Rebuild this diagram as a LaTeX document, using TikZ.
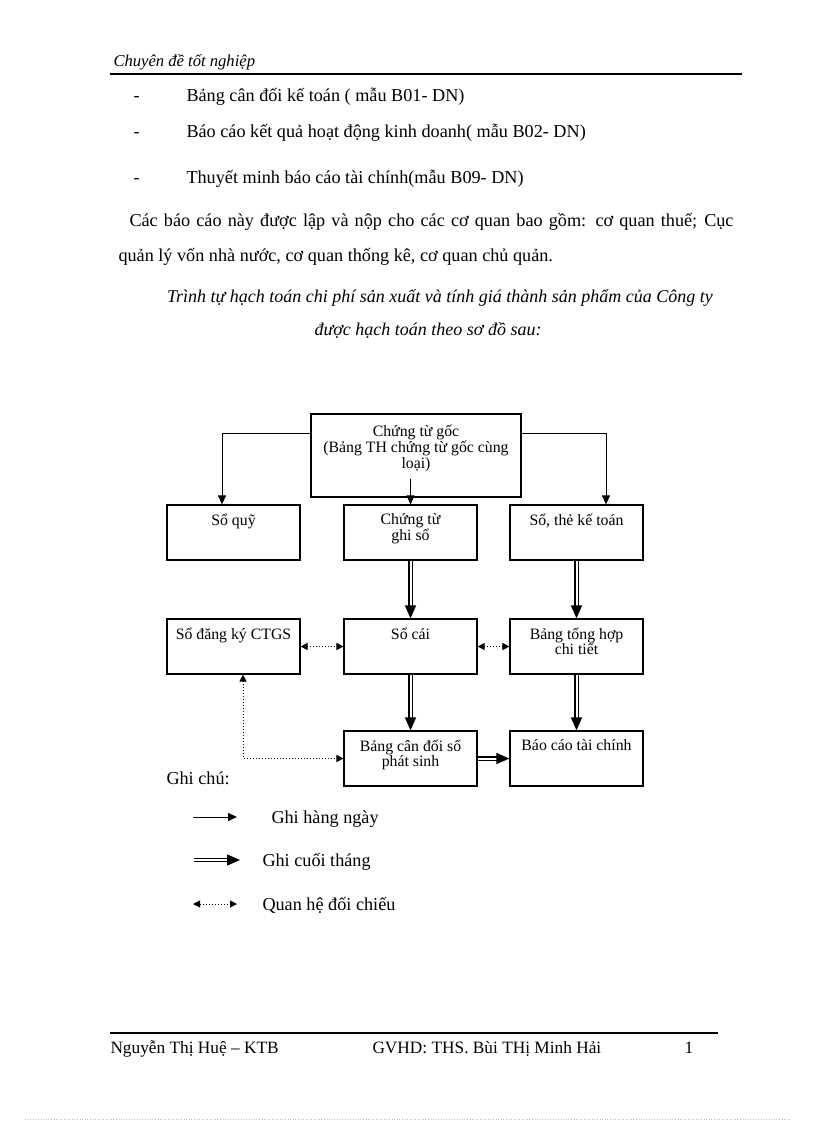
\documentclass[tikz,border=0pt]{standalone}
\usepackage{fontspec}
\setmainfont{Liberation Serif}
\usetikzlibrary{arrows.meta,calc,positioning}

\begin{document}
\begin{tikzpicture}[x=1pt, y=-1pt, on grid, node distance=114pt and 177pt, line width=1pt,
		box/.style={draw, line width=1.2pt, minimum width=133pt, minimum height=55pt},
		lbl/.style={anchor=north, inner sep=0pt, yshift=-9pt, align=center, font=\fontsize{15.8}{15.5}\selectfont},
		txt/.style={anchor=base west, inner sep=0pt, font=\fontsize{18.2}{22}\selectfont},
		daily/.style={-{Triangle[length=9pt,width=8pt]}},
		monthly/.style={double, line width=1.2pt, double distance=2pt, -{Triangle[length=13pt,width=11pt]}},
		check/.style={dotted, {Triangle[length=7pt,width=7pt]}-{Triangle[length=7pt,width=7pt]}}]
			\useasboundingbox (0,0) rectangle (816,1123);
			% page header and text
			\node[txt, font=\fontsize{16.6}{20}\selectfont\itshape] (head) at (113,67) {Chuyên đề tốt nghiệp};
			\draw[line width=2pt] (110,74) -- (742,74);
			\foreach \y/\t in {102/{Bảng cân đối kế toán ( mẫu B01- DN)},
			                   138/{Báo cáo kết quả hoạt động kinh doanh( mẫu B02- DN)},
			                   184/{Thuyết minh báo cáo tài chính(mẫu B09- DN)}} {
				\node[txt] at (133,\y) {-};
				\node[txt] at (186,\y) {\t};
			}
			\node[txt] (para1) at (129,227) {\makebox[604pt][s]{Các báo cáo này được lập và nộp cho các cơ quan bao gồm: cơ quan thuế; Cục}};
			\node[txt] (para2) at (118,261) {quản lý vốn nhà nước, cơ quan thống kê, cơ quan chủ quản.};
			\node[txt, anchor=base, font=\fontsize{18}{22}\selectfont\itshape] (cap1) at (440,302) {Trình tự hạch toán chi phí sản xuất và tính giá thành sản phẩm của Công ty};
			\node[txt, anchor=base, font=\fontsize{18}{22}\selectfont\itshape] (cap2) at (428,335) {được hạch toán theo sơ đồ sau:};

			% diagram
			\node[box, minimum width=210pt, minimum height=83pt, label={[lbl, yshift=-2pt, font=\fontsize{15.8}{16}\selectfont]north:Chứng từ gốc\\(Bảng TH chứng từ gốc cùng\\loại)}] (goc) at (416,455.5) {};
			\node[box, label={[lbl]north:Sổ quỹ}] (soquy) at (233.5,532.5) {};
			\node[box, label={[lbl]north:Chứng từ\\ghi sổ}] (ctgs) [right=of soquy] {};
			\node[box, label={[lbl]north:{Sổ, thẻ kế toán}}] (sothe) [right=166pt of ctgs] {};
			\node[box, label={[lbl]north:Sổ đăng ký CTGS}] (sodk) [below=of soquy] {};
			\node[box, label={[lbl]north:Sổ cái}] (socai) [below=of ctgs] {};
			\node[box, label={[lbl]north:Bảng tổng hợp\\chi tiết}] (bth) [below=of sothe] {};
			\node[box, label={[lbl]north:Bảng cân đối số\\phát sinh}] (bcd) [below=112pt of socai] {};
			\node[box, label={[lbl]north:Báo cáo tài chính}] (bctc) [below=112pt of bth] {};

			\draw[daily] ([yshift=-20pt]goc.north west) -| ([xshift=-11.5pt]soquy.north);
			\draw[daily] ([yshift=-20pt]goc.north east) -| ([xshift=29.5pt]sothe.north);
			\draw[daily] ($(ctgs.north |- goc.south)+(0,-19)$) -- (ctgs.north);
			\draw[monthly] (ctgs) -- (socai);
			\draw[monthly] (sothe) -- (bth);
			\draw[monthly] (socai) -- (bcd);
			\draw[monthly] (bth) -- (bctc);
			\draw[monthly] (bcd) -- (bctc);
			\draw[check] (sodk) -- (socai);
			\draw[check] (socai) -- (bth);
			\draw[check] ([xshift=9.5pt]sodk.south) |- (bcd.west);

			% legend
			\node[txt] (ghichu) at (166,784) {Ghi chú:};
			\coordinate (d1) at (193,817);  \coordinate (d2) at (237,817);
			\coordinate (m1) at (194,860);  \coordinate (m2) at (240,860);
			\coordinate (c1) at (193,904);  \coordinate (c2) at (237,904);
			\draw[daily] (d1) -- (d2);
			\draw[monthly] (m1) -- (m2);
			\draw[check] (c1) -- (c2);
			\node[txt] at (271,823) {Ghi hàng ngày};
			\node[txt] at (262,866) {Ghi cuối tháng};
			\node[txt] at (262,910) {Quan hệ đối chiếu};

			% footer
			\draw[line width=2pt] (110,1033) -- (718,1033);
			\node[txt, font=\fontsize{17.3}{20}\selectfont] at (110,1053) {Nguyễn Thị Huệ – KTB};
			\node[txt, font=\fontsize{17.3}{20}\selectfont] at (372,1053) {GVHD: THS. Bùi THị Minh Hải};
			\node[txt, font=\fontsize{17.3}{20}\selectfont] at (684,1053) {1};
			\draw[gray!50, line width=0.6pt, dotted] (25,1119) -- (792,1119);
		\end{tikzpicture}
\end{document}
